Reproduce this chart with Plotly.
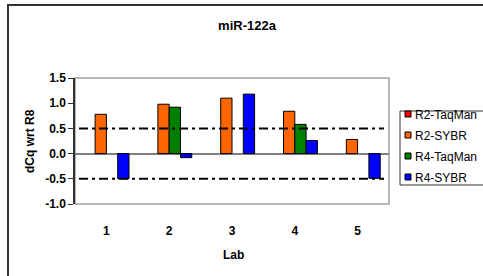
import plotly.graph_objects as go

labs = [1, 2, 3, 4, 5]
lab_labels = ["1", "2", "3", "4", "5"]
series_names = ["R2-TaqMan", "R2-SYBR", "R4-TaqMan", "R4-SYBR"]
r2_taqman = [None, None, None, None, None]
r2_sybr = [0.78, 0.98, 1.10, 0.84, 0.28]
r4_taqman = [None, 0.92, None, 0.58, None]
r4_sybr = [-0.50, -0.08, 1.18, 0.26, -0.49]
colors = ["#FF0000", "#FF6600", "#008000", "#0000FF"]
threshold_levels = [0.5, -0.5]
y_ticks = [-1.0, -0.5, 0.0, 0.5, 1.0, 1.5]

W, H = 483, 276
L, R, T, B = 75, 94, 78, 72
pw, ph = W - L - R, H - T - B
FONT = "Arial, Liberation Sans, sans-serif"

def px_x(p):
    return (p - L) / pw

def px_y(p):
    return (H - B - p) / ph

fig = go.Figure()
values = [r2_taqman, r2_sybr, r4_taqman, r4_sybr]
for name, vals, col in zip(series_names, values, colors):
    fig.add_trace(go.Bar(x=labs, y=vals, name=name, marker_color=col,
                         marker_line_color="black", marker_line_width=1,
                         showlegend=False))

ymin, ymax = -1.0, 1.5
zero_frac = (0 - ymin) / (ymax - ymin)

fig.update_layout(
    width=W, height=H,
    margin=dict(l=L, r=R, t=T, b=B, autoexpand=False),
    paper_bgcolor="white", plot_bgcolor="white",
    barmode="group", bargap=0.28, bargroupgap=0,
    font=dict(family=FONT, color="black", size=12),
    title=dict(text="<b>miR-122a</b>", x=247 / W, xanchor="center",
               y=1 - 25 / H, yanchor="middle",
               font=dict(size=13, family=FONT, color="black")),
    xaxis=dict(range=[0.5, 5.5], tickvals=labs, ticktext=[f"<b>{t}</b>" for t in lab_labels],
               ticks="outside", ticklen=16, tickcolor="rgba(0,0,0,0)",
               showline=False, showgrid=False, zeroline=False,
               tickfont=dict(size=12, family=FONT, color="black")),
    xaxis2=dict(range=[0.5, 5.5], overlaying="x", anchor="free", position=zero_frac,
                tickvals=[i + 0.5 for i in range(len(labs) + 1)],
                ticks="outside", ticklen=5, tickcolor="#808080", tickwidth=1,
                showticklabels=False, showline=False, showgrid=False, zeroline=False),
    yaxis=dict(range=[ymin, ymax], tickvals=y_ticks,
               ticktext=[f"<b>{v:.1f}</b>" for v in y_ticks],
               ticks="outside", ticklen=5, tickcolor="#303030",
               showline=True, linecolor="#303030", linewidth=1.5,
               showgrid=False, zeroline=True, zerolinecolor="#808080", zerolinewidth=1.5,
               tickfont=dict(size=12, family=FONT, color="black")),
    showlegend=False,
)

# plot area border (gray)
fig.add_shape(type="rect", xref="paper", yref="paper", x0=0, x1=1, y0=0, y1=1,
              line=dict(color="#A0A0A0", width=1.5), layer="below")
# outer chart border
fig.add_shape(type="rect", xref="paper", yref="paper",
              x0=px_x(8), x1=px_x(W + 20), y0=px_y(H + 20), y1=px_y(5),
              line=dict(color="#333333", width=2))
# threshold dash-dot lines
for lv in threshold_levels:
    fig.add_shape(type="line", xref="paper", yref="y", x0=px_x(79), x1=px_x(384),
                  y0=lv, y1=lv, line=dict(color="black", width=2, dash="9px,4px,3px,4px"))

# legend (box, swatches, labels)
leg_left, leg_top, leg_bottom = 400, 111, 185
item_y0, item_step = 115, 21
fig.add_shape(type="rect", xref="paper", yref="paper",
              x0=px_x(leg_left), x1=px_x(W + 20), y0=px_y(leg_bottom), y1=px_y(leg_top),
              line=dict(color="#303030", width=1), fillcolor="white")
for i, (name, col) in enumerate(zip(series_names, colors)):
    cy = item_y0 + i * item_step
    fig.add_shape(type="rect", xref="paper", yref="paper",
                  x0=px_x(405), x1=px_x(411), y0=px_y(cy + 2), y1=px_y(cy - 4),
                  line=dict(color="black", width=1), fillcolor=col)
    fig.add_annotation(text=name, xref="paper", yref="paper",
                       x=px_x(413), y=px_y(cy), showarrow=False,
                       xanchor="left", yanchor="middle",
                       font=dict(size=12, family=FONT, color="black"))

fig.add_annotation(text="<b>dCq wrt R8</b>", xref="paper", yref="paper",
                   x=px_x(30), y=0.5, textangle=-90, showarrow=False,
                   xanchor="center", yanchor="middle",
                   font=dict(size=12, family=FONT, color="black"))
fig.add_annotation(text="<b>Lab</b>", xref="paper", yref="paper",
                   x=px_x(233), y=px_y(255), showarrow=False,
                   xanchor="center", yanchor="middle",
                   font=dict(size=12, family=FONT, color="black"))

fig.write_html("out.html", config={"displayModeBar": False},
               post_script="document.body.style.margin='0';")
